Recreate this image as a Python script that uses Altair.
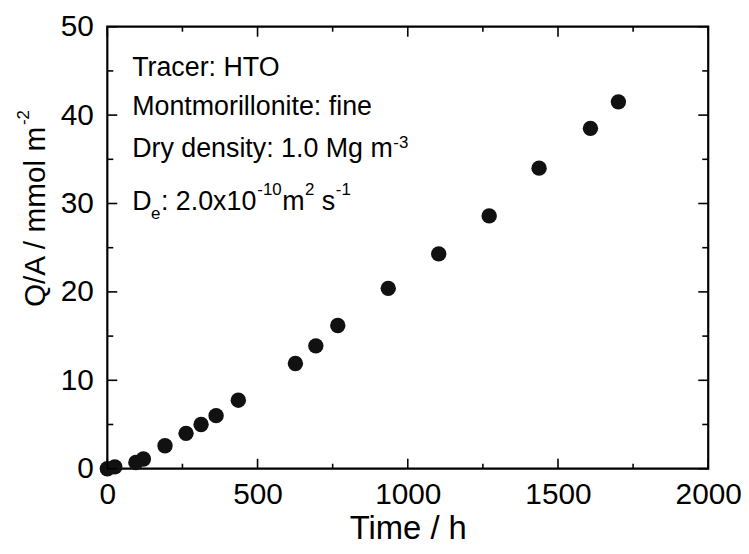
import altair as alt
import pandas as pd

# ---- data ----
time_h = [0, 25, 95, 120, 192, 262, 312, 362, 436, 626, 694, 767, 935, 1103, 1271, 1437, 1608, 1701]
qa = [0.0, 0.2, 0.7, 1.1, 2.6, 4.0, 5.0, 6.0, 7.75, 11.9, 13.9, 16.2, 20.4, 24.3, 28.6, 34.0, 38.5, 41.5]

x_major = [0, 500, 1000, 1500, 2000]
x_minor = [250, 750, 1250, 1750]
y_major = [0, 10, 20, 30, 40, 50]
y_minor = [5, 15, 25, 35, 45]

W, H = 605, 445
FONT = "Liberation Sans"

xscale = alt.Scale(domain=[0, 2000], nice=False, zero=False)
yscale = alt.Scale(domain=[0, 50], nice=False, zero=False)

xaxis = alt.Axis(values=x_major, format="d", ticks=False, domain=False, grid=False,
                 labelFont=FONT, labelFontSize=30, labelColor="black",
                 labelPadding=11, labelFlush=False,
                 title="Time / h", titleFont=FONT, titleFontSize=33,
                 titleFontWeight="normal", titleColor="black",
                 titleX=W / 2, titleY=70, titleAlign="center",
                 titleBaseline="alphabetic")
yaxis = alt.Axis(values=y_major, format="d", ticks=False, domain=False, grid=False,
                 labelFont=FONT, labelFontSize=30, labelColor="black",
                 labelPadding=14, labelFlush=False,
                 title="Q/A / mmol m", titleFont=FONT, titleFontSize=30,
                 titleFontWeight="normal", titleColor="black",
                 titleAngle=270, titleX=-63, titleY=191,
                 titleAlign="center", titleBaseline="alphabetic")

df = pd.DataFrame({"time": time_h, "qa": qa})

points = alt.Chart(df).mark_circle(size=240, color="#111111", opacity=1).encode(
    x=alt.X("time:Q", scale=xscale, axis=xaxis),
    y=alt.Y("qa:Q", scale=yscale, axis=yaxis),
)


def xticks(vals, length):
    d = pd.DataFrame({"time": vals})
    bottom = alt.Chart(d).mark_rule(color="black", strokeWidth=1.6).encode(
        x=alt.X("time:Q", scale=xscale, axis=xaxis), y=alt.value(H), y2=alt.value(H - length))
    top = alt.Chart(d).mark_rule(color="black", strokeWidth=1.6).encode(
        x=alt.X("time:Q", scale=xscale, axis=xaxis), y=alt.value(0), y2=alt.value(length))
    return [bottom, top]


def yticks(vals, length):
    d = pd.DataFrame({"qa": vals})
    left = alt.Chart(d).mark_rule(color="black", strokeWidth=1.6).encode(
        y=alt.Y("qa:Q", scale=yscale, axis=yaxis), x=alt.value(0), x2=alt.value(length))
    right = alt.Chart(d).mark_rule(color="black", strokeWidth=1.6).encode(
        y=alt.Y("qa:Q", scale=yscale, axis=yaxis), x=alt.value(W), x2=alt.value(W - length))
    return [left, right]


def txt(s, x, y, size=27, angle=0, align="left"):
    return alt.Chart(alt.Data(values=[{}])).mark_text(
        text=s, font=FONT, fontSize=size, color="black", align=align,
        baseline="alphabetic", angle=angle).encode(x=alt.value(x), y=alt.value(y))


ann = [
    txt("Tracer: HTO", 25, 50),
    txt("Montmorillonite: fine", 25, 89),
    txt("Dry density: 1.0 Mg m", 25, 131),
    txt("-3", 288, 122, size=17),
    txt("D", 25, 185),
    txt("e", 44, 194, size=17),
    txt(": 2.0x10", 54, 185),
    txt("-10", 151, 169, size=17),
    txt("m", 176, 185),
    txt("2", 199, 169, size=17),
    txt("s", 216, 185),
    txt("-1", 230, 169, size=17),
    # superscript of the y-axis title
    txt("-2", -79, 99, size=17, angle=270),
]

layers = [points] + xticks(x_major, 10) + xticks(x_minor, 5) + yticks(y_major, 10) + yticks(y_minor, 6) + ann

chart = alt.layer(*layers).properties(
    width=W, height=H,
    background="white",
    autosize=alt.AutoSizeParams(type="none"),
    padding={"left": 100, "top": 17, "right": 33, "bottom": 76},
).configure_view(stroke="black", strokeWidth=2.2)

chart.save("out.html", embed_options={"renderer": "svg", "actions": False})
